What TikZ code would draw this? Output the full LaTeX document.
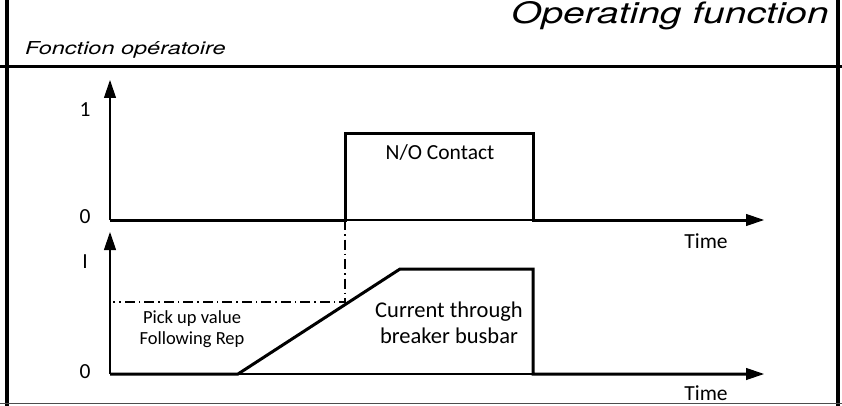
\documentclass[tikz,border=0pt]{standalone}
\usepackage{fontspec}
\setmainfont{Carlito}
\newfontfamily\headfont[FakeStretch=1.32]{TeX Gyre Heros}
\usetikzlibrary{arrows.meta}
\tikzset{
    frame/.style={line width=3.5pt},
    axis/.style={line width=1.2pt, -{Triangle[length=18pt,width=12pt]}},
    signal/.style={line width=3pt, line join=miter},
    pickup/.style={line width=1.3pt, dash pattern=on 10pt off 4pt on 1.5pt off 4pt},
    lbl/.style={font=\fontsize{21.5}{24}\selectfont, inner sep=0pt},
    small/.style={font=\fontsize{18.5}{21.5}\selectfont, inner sep=0pt, align=center}
}
\begin{document}
\begin{tikzpicture}
        [x=1pt, y=-1pt]
        \useasboundingbox (0,0) rectangle (842,406);
        % frame and heading
        \draw[frame]
            (7,0)--(7,406)
            (838,0)--(838,406)
            (0,66.5)--(842,66.5);
        \draw[line width=1pt, color=black!70]
            (0,403)--(842,403);
        \node[anchor=base east, inner sep=0pt, font=\headfont\itshape\fontsize{29.5}{32}\selectfont] (title)
            at (829,23.5) {Operating function};
        \node[anchor=base west, inner sep=0pt, font=\headfont\itshape\fontsize{17.8}{20}\selectfont] (subtitle)
            at (25,55) {Fonction opératoire};
        % contact plot
        \coordinate (o1) at (110,220);
        \draw[axis] (o1)--(110,80);
        \draw[axis] (o1)--(764,220);
        \draw[signal]
            (o1)--(345,220)--(345,134)--(533,134)--(533,220)--(746,220);
        \node[lbl] (one) at (85,110) {1};
        \node[lbl] (zero1) at (85,217) {0};
        \node[lbl] (contact) at (440,152) {N/O Contact};
        \node[lbl] (time1) at (706,241) {Time};
        % current plot
        \coordinate (o2) at (110,374);
        \draw[axis] (o2)--(110,232);
        \draw[axis] (o2)--(764,374);
        \draw[signal]
            (o2)--(238,374)--(400,269)--(533,269)--(533,374)--(746,374);
        \draw[pickup]
            (345,220)--(345,302)--(113,302);
        \node[lbl] (imax) at (85,262) {I};
        \node[lbl] (zero2) at (85,372) {0};
        \node[lbl, align=center, font=\fontsize{22.5}{26}\selectfont] (current) at (449,323)
            {Current through\\breaker busbar};
        \node[small] (pickval) at (192,329) {Pick up value\\Following Rep};
        \node[lbl] (time2) at (706,393) {Time};
        \end{tikzpicture}
\end{document}
